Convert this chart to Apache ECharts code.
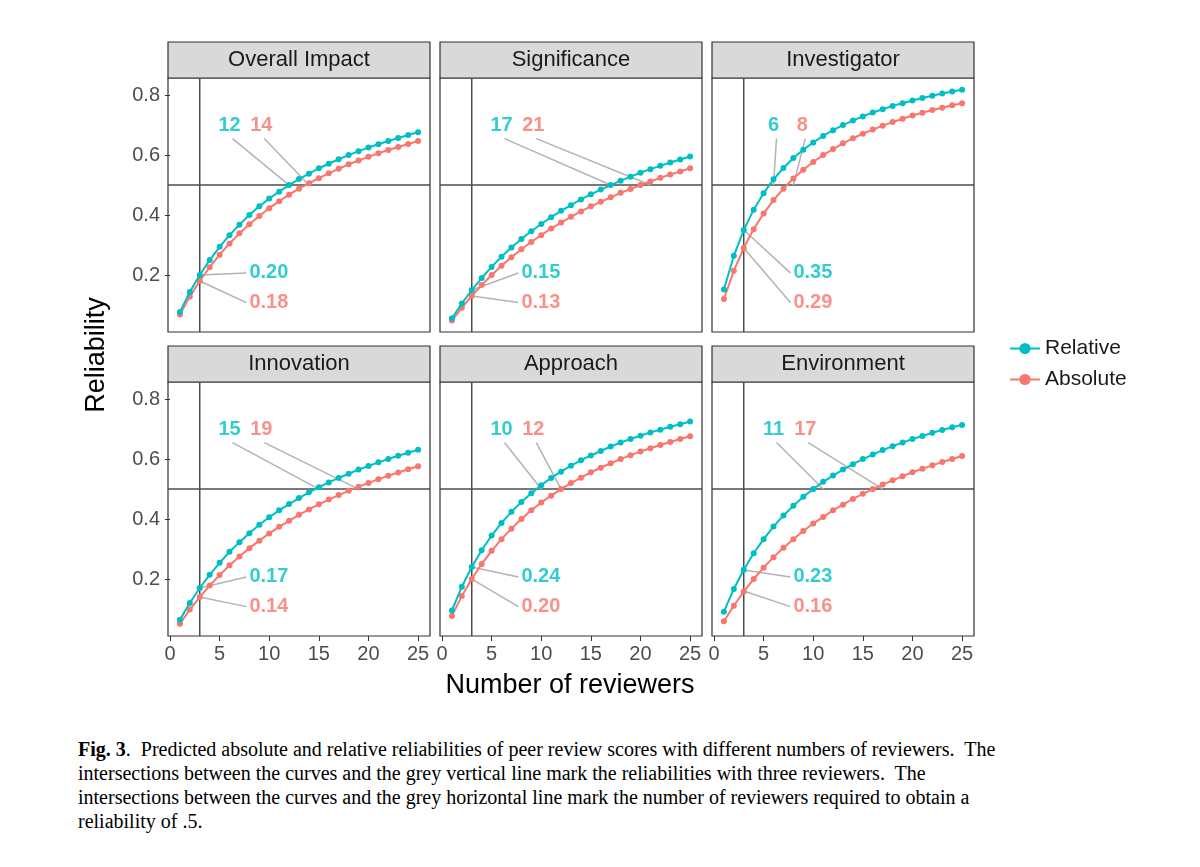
<!DOCTYPE html>
<html><head><meta charset="utf-8">
<script src="https://cdn.jsdelivr.net/npm/echarts@6/dist/echarts.min.js"></script>
<style>body{margin:0;background:#fff}#c{width:1200px;height:700px}
#cap{position:absolute;left:78px;top:737px;width:1110px;font-family:"Liberation Serif",serif;font-size:20px;line-height:24px;color:#000;white-space:nowrap}</style>
</head><body><div id="c"></div>
<div id="cap"><b>Fig. 3</b>.&nbsp; Predicted absolute and relative reliabilities of peer review scores with different numbers of reviewers.&nbsp; The<br>intersections between the curves and the grey vertical line mark the reliabilities with three reviewers.&nbsp; The<br>intersections between the curves and the grey horizontal line mark the number of reviewers required to obtain a<br>reliability of .5.</div>
<script>
const reviewers = [1,2,3,4,5,6,7,8,9,10,11,12,13,14,15,16,17,18,19,20,21,22,23,24,25];
const panels = ["Overall Impact","Significance","Investigator","Innovation","Approach","Environment"];
const relative = [
 [.077,.143,.20,.25,.294,.333,.368,.40,.429,.455,.478,.50,.52,.538,.556,.571,.586,.60,.613,.625,.636,.647,.657,.667,.676],
 [.056,.105,.15,.19,.227,.261,.292,.32,.346,.37,.393,.414,.433,.452,.469,.485,.50,.514,.528,.541,.553,.564,.575,.585,.595],
 [.152,.264,.35,.418,.473,.519,.557,.59,.618,.642,.664,.683,.70,.715,.729,.742,.753,.764,.773,.782,.79,.798,.805,.812,.818],
 [.064,.12,.17,.214,.254,.291,.323,.353,.381,.406,.429,.45,.47,.489,.506,.522,.537,.551,.565,.577,.589,.60,.611,.621,.631],
 [.095,.174,.24,.296,.345,.387,.424,.457,.486,.513,.537,.558,.578,.596,.612,.627,.642,.655,.667,.678,.689,.698,.708,.716,.725],
 [.091,.167,.231,.286,.333,.375,.412,.444,.474,.50,.524,.545,.565,.583,.60,.615,.63,.643,.655,.667,.677,.688,.697,.706,.714]];
const absolute = [
 [.068,.128,.18,.226,.268,.305,.339,.369,.397,.423,.446,.468,.488,.506,.523,.539,.554,.569,.582,.594,.606,.617,.627,.637,.647],
 [.048,.091,.13,.167,.20,.231,.259,.286,.31,.333,.355,.375,.394,.412,.429,.444,.459,.474,.487,.50,.512,.524,.535,.545,.556],
 [.12,.214,.29,.353,.405,.45,.488,.522,.551,.577,.60,.62,.639,.656,.671,.685,.698,.71,.721,.732,.741,.75,.758,.766,.773],
 [.051,.098,.14,.178,.213,.246,.275,.303,.328,.352,.374,.394,.414,.432,.449,.465,.48,.494,.508,.52,.533,.544,.555,.566,.576],
 [.077,.143,.20,.25,.294,.333,.368,.40,.429,.455,.478,.50,.52,.538,.556,.571,.586,.60,.613,.625,.636,.647,.657,.667,.676],
 [.059,.111,.158,.20,.238,.273,.304,.333,.36,.385,.407,.429,.448,.467,.484,.50,.515,.529,.543,.556,.568,.579,.59,.60,.61]];
const relAt3 = ["0.20","0.15","0.35","0.17","0.24","0.23"];
const absAt3 = ["0.18","0.13","0.29","0.14","0.20","0.16"];
const relN50 = [12,17,6,15,10,11];
const absN50 = [14,21,8,19,12,17];

const TEAL="#00BFC4", SAL="#F8766D", LG="#b3b3b3";
const colX=[168,440,712], rowY=[78,382], PW=262, PH=254;
const grids=[],xAxes=[],yAxes=[],series=[],graphic=[];
panels.forEach((name,i)=>{
  const c=i%3,r=Math.floor(i/3);
  grids.push({left:colX[c],top:rowY[r],width:PW,height:PH,show:true,borderColor:'#333',borderWidth:1.2,backgroundColor:'#fff'});
  xAxes.push({gridIndex:i,type:'value',min:-0.2,max:26.2,splitLine:{show:false},axisLine:{show:false},
    axisTick:{show:r===1,customValues:[0,5,10,15,20,25],length:5,lineStyle:{color:'#333'}},
    axisLabel:{show:r===1,customValues:[0,5,10,15,20,25],fontSize:20,color:'#4d4d4d',fontFamily:'Liberation Sans',margin:8}});
  yAxes.push({gridIndex:i,type:'value',min:0.01,max:0.857,splitLine:{show:false},axisLine:{show:false},
    axisTick:{show:c===0,customValues:[0.2,0.4,0.6,0.8],length:5,lineStyle:{color:'#333'}},
    axisLabel:{show:c===0,customValues:[0.2,0.4,0.6,0.8],fontSize:20,color:'#4d4d4d',fontFamily:'Liberation Sans',formatter:v=>v.toFixed(1)}});
  graphic.push({type:'rect',shape:{x:colX[c],y:rowY[r]-36,width:PW,height:36},style:{fill:'#d9d9d9',stroke:'#333',lineWidth:1.2}});
  graphic.push({type:'text',x:colX[c]+PW/2,y:rowY[r]-18,style:{text:name,fontSize:22,fill:'#1a1a1a',fontFamily:'Liberation Sans',align:'center',verticalAlign:'middle'}});
  const base={xAxisIndex:i,yAxisIndex:i,silent:true};
  series.push({...base,type:'line',symbol:'none',data:[[3,0.01],[3,0.857]],lineStyle:{color:'#4d4d4d',width:1.5},z:1});
  series.push({...base,type:'line',symbol:'none',data:[[-0.2,0.5],[26.2,0.5]],lineStyle:{color:'#4d4d4d',width:1.5},z:1});
  const rv=parseFloat(relAt3[i]), av=parseFloat(absAt3[i]);
  const lead=(pts)=>series.push({...base,type:'line',symbol:'none',data:pts,lineStyle:{color:LG,width:1.5},z:2});
  lead([[3,rv],[7.7,0.207]]); lead([[3,av],[7.7,0.108]]);
  const lx1 = 6.0, lx2 = relN50[i]<10?8.9:9.2;
  lead([[lx1+0.3,0.655],[relN50[i],0.5]]); lead([[lx2+0.3,0.655],[absN50[i],0.5]]);
  series.push({name:'Relative',...base,type:'line',data:reviewers.map((n,k)=>[n,relative[i][k]]),color:TEAL,symbolSize:6,symbol:'circle',lineStyle:{width:2},z:5});
  series.push({name:'Absolute',...base,type:'line',data:reviewers.map((n,k)=>[n,absolute[i][k]]),color:SAL,symbolSize:6,symbol:'circle',lineStyle:{width:2},z:4});
  const lab=(x,y,t,col,al)=>({value:[x,y],label:{show:true,formatter:t,color:col,position:'inside',align:al,fontSize:20,fontWeight:'bold',fontFamily:'Liberation Sans'}});
  series.push({...base,type:'scatter',symbolSize:1,itemStyle:{color:'rgba(0,0,0,0)'},z:6,data:[
    lab(8.0,0.207,relAt3[i],TEAL,'left'),lab(8.0,0.108,absAt3[i],SAL,'left'),
    lab(lx1,0.70,String(relN50[i]),TEAL,'center'),lab(lx2,0.70,String(absN50[i]),SAL,'center')]});
});
graphic.push({type:'text',x:97,y:355,rotation:Math.PI/2,style:{text:'Reliability',fontSize:27,fill:'#000',fontFamily:'Liberation Sans',align:'center',verticalAlign:'middle'}});
graphic.push({type:'text',x:570,y:686,style:{text:'Number of reviewers',fontSize:27,fill:'#000',fontFamily:'Liberation Sans',align:'center',verticalAlign:'middle'}});
const chart=echarts.init(document.getElementById('c'));
chart.setOption({animation:false,grid:grids,xAxis:xAxes,yAxis:yAxes,series,graphic,
 legend:{data:['Relative','Absolute'],orient:'vertical',left:1004,top:333,itemGap:10,itemWidth:30,itemHeight:14,
  textStyle:{fontSize:21,color:'#1a1a1a',fontFamily:'Liberation Sans'},selectedMode:false}});
</script></body></html>
